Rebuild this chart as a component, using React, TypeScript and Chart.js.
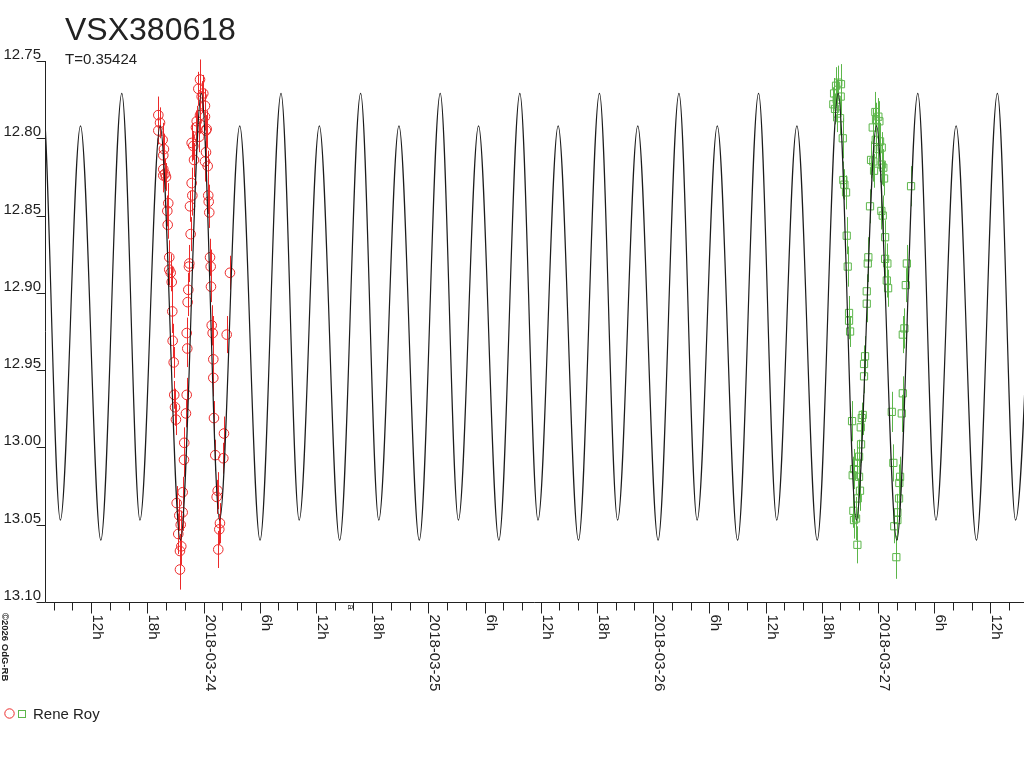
import { useEffect, useRef } from 'react';
import { Chart, registerables } from 'chart.js';
import type { Plugin } from 'chart.js';

Chart.register(...registerables);

// time is in hours since 2018-03-23 00:00
const X_MIN = 7.07;
const X_MAX = 111.6;
const Y_MIN = 12.75;
const Y_MAX = 13.1;

const RED = '#ec2a2a';
const GREEN = '#5cb64a';
const INK = '#222222';
const FONT = "'Liberation Sans', Arial, sans-serif";

const yTicks = [12.75, 12.8, 12.85, 12.9, 12.95, 13.0, 13.05, 13.1];
const yTickLabels = ['12.75', '12.80', '12.85', '12.90', '12.95', '13.00', '13.05', '13.10'];

const xLabelHours = [12, 18, 24, 30, 36, 42, 48, 54, 60, 66, 72, 78, 84, 90, 96, 102, 108];
const xLabels = [
	'12h', '18h', '2018-03-24', '6h', '12h', '18h', '2018-03-25', '6h', '12h', '18h',
	'2018-03-26', '6h', '12h', '18h', '2018-03-27', '6h', '12h',
];

const curveTimes = [
	4.53, 6.77, 8.71, 10.86, 13.03, 15.27, 17.21, 19.36, 21.53, 23.77, 25.71, 27.86, 30.03,
	32.27, 34.21, 36.36, 38.53, 40.77, 42.71, 44.86, 47.03, 49.27, 51.21, 53.36, 55.53,
	57.77, 59.71, 61.86, 64.03, 66.27, 68.21, 70.36, 72.53, 74.76, 76.7, 78.85, 81.02,
	83.26, 85.2, 87.35, 89.52, 91.76, 93.7, 95.85, 98.02, 100.26, 102.2, 104.35, 106.52,
	108.76, 110.7, 112.85,
];
const curveMags = [
	13.06, 12.771, 13.047, 12.792, 13.06, 12.771, 13.047, 12.792, 13.06, 12.771, 13.047, 12.792, 13.06,
	12.771, 13.047, 12.792, 13.06, 12.771, 13.047, 12.792, 13.06, 12.771, 13.047, 12.792, 13.06,
	12.771, 13.047, 12.792, 13.06, 12.771, 13.047, 12.792, 13.06, 12.771, 13.047, 12.792, 13.06,
	12.771, 13.047, 12.792, 13.06, 12.771, 13.047, 12.792, 13.06, 12.771, 13.047, 12.792, 13.06,
	12.771, 13.047, 12.792,
];

// Rene Roy, first night (circles)
const redTimes = [
	19.17, 19.35, 19.17, 19.63, 19.77, 19.7, 19.7, 19.88, 19.99, 19.7,
	20.23, 20.13, 20.17, 20.34, 20.34, 20.49, 20.6, 20.66, 20.7, 20.81,
	20.87, 20.95, 21.05, 21.13, 21.3, 21.41, 21.56, 21.62, 21.48, 21.48,
	21.77, 21.77, 21.91, 21.94, 22.12, 22.2, 22.26, 22.2, 22.3, 22.37,
	22.44, 22.48, 22.62, 22.55, 22.8, 22.73, 22.98, 22.9, 22.73, 23.54,
	23.19, 23.27, 23.62, 23.44, 23.62, 23.97, 23.8, 24.15, 24.15, 24.33,
	24.26, 24.26, 24.15, 24.44, 24.5, 24.55, 24.61, 24.69, 24.76, 24.79,
	24.87, 24.97, 25.04, 25.04, 25.11, 25.25, 25.51, 25.4, 25.75, 25.68,
	25.57, 26.18, 26.11, 26.47, 26.82,
];
const redMags = [
	12.785, 12.79, 12.795, 12.801, 12.807, 12.811, 12.82, 12.823, 12.825, 12.824,
	12.842, 12.847, 12.856, 12.877, 12.885, 12.887, 12.893, 12.912, 12.931, 12.945,
	12.966, 12.974, 12.982, 13.036, 13.056, 13.044, 13.05, 13.064, 13.067, 13.079,
	13.029, 13.042, 13.008, 12.997, 12.978, 12.966, 12.936, 12.926, 12.906, 12.898,
	12.883, 12.881, 12.862, 12.844, 12.837, 12.829, 12.814, 12.805, 12.803, 12.799,
	12.793, 12.789, 12.785, 12.768, 12.762, 12.771, 12.773, 12.779, 12.786, 12.794,
	12.795, 12.809, 12.815, 12.818, 12.837, 12.841, 12.848, 12.877, 12.883, 12.896,
	12.921, 12.926, 12.943, 12.955, 12.981, 13.005, 13.028, 13.032, 13.049, 13.053,
	13.066, 12.991, 13.007, 12.927, 12.887,
];
const redErrors = [
	0.012, 0.01, 0.009, 0.011, 0.01, 0.008, 0.012, 0.01, 0.009, 0.011,
	0.013, 0.01, 0.009, 0.011, 0.01, 0.012, 0.01, 0.014, 0.011, 0.01,
	0.009, 0.012, 0.01, 0.011, 0.013, 0.01, 0.009, 0.012, 0.011, 0.013,
	0.01, 0.012, 0.011, 0.01, 0.009, 0.011, 0.012, 0.01, 0.009, 0.011,
	0.01, 0.012, 0.011, 0.01, 0.013, 0.01, 0.011, 0.009, 0.012, 0.01,
	0.011, 0.01, 0.012, 0.011, 0.013, 0.012, 0.01, 0.011, 0.009, 0.012,
	0.01, 0.011, 0.013, 0.01, 0.012, 0.011, 0.01, 0.012, 0.011, 0.01,
	0.013, 0.011, 0.01, 0.012, 0.011, 0.01, 0.012, 0.011, 0.013, 0.01,
	0.012, 0.011, 0.01, 0.012, 0.011,
];

// Rene Roy, last night (squares)
const greenTimes = [
	91.77, 92.06, 91.53, 91.32, 92.03, 91.24, 91.6, 91.42, 91.67, 91.96,
	92.25, 92.31, 92.42, 92.6, 92.67, 92.78, 92.92, 92.92, 93.03, 93.24,
	93.31, 93.38, 93.45, 93.45, 93.67, 93.74, 93.81, 93.85, 93.99, 93.99,
	94.09, 94.17, 94.2, 94.28, 94.38, 94.52, 94.52, 94.63, 94.81, 94.81,
	94.92, 94.98, 95.16, 95.27, 95.51, 95.45, 95.59, 95.73, 95.77, 95.8,
	96.05, 96.16, 96.05, 96.23, 96.41, 96.41, 96.58, 96.66, 96.37, 96.52,
	96.77, 96.77, 97.01, 96.95, 97.09, 97.48, 97.65, 97.75, 97.97, 98.08,
	98.08, 98.26, 98.29, 98.37, 98.55, 98.66, 98.66, 98.83, 98.98, 99.09,
	99.54,
];
const greenMags = [
	12.764, 12.765, 12.766, 12.771, 12.773, 12.778, 12.775, 12.781, 12.784, 12.787,
	12.8, 12.827, 12.83, 12.835, 12.863, 12.883, 12.913, 12.918, 12.925, 12.983,
	13.018, 13.041, 13.014, 13.047, 13.046, 13.01, 13.063, 13.033, 13.006, 13.019,
	13.028, 12.987, 12.998, 12.981, 12.979, 12.946, 12.954, 12.941, 12.907, 12.899,
	12.881, 12.877, 12.844, 12.814, 12.815, 12.793, 12.821, 12.783, 12.801, 12.788,
	12.786, 12.789, 12.807, 12.802, 12.806, 12.817, 12.819, 12.826, 12.847, 12.85,
	12.864, 12.878, 12.881, 12.892, 12.897, 12.977, 13.01, 13.051, 13.071, 13.042,
	13.047, 13.033, 13.023, 13.019, 12.978, 12.965, 12.927, 12.923, 12.895, 12.881,
	12.831,
];
const greenErrors = [
	0.011, 0.013, 0.012, 0.01, 0.012, 0.011, 0.013, 0.01, 0.012, 0.011,
	0.013, 0.012, 0.01, 0.011, 0.012, 0.013, 0.011, 0.012, 0.01, 0.013,
	0.012, 0.011, 0.013, 0.012, 0.014, 0.011, 0.012, 0.013, 0.011, 0.012,
	0.013, 0.011, 0.012, 0.01, 0.013, 0.012, 0.011, 0.013, 0.012, 0.011,
	0.012, 0.013, 0.011, 0.012, 0.013, 0.012, 0.011, 0.013, 0.012, 0.011,
	0.012, 0.013, 0.011, 0.012, 0.01, 0.013, 0.012, 0.011, 0.012, 0.013,
	0.011, 0.012, 0.013, 0.011, 0.012, 0.013, 0.012, 0.011, 0.014, 0.012,
	0.013, 0.011, 0.012, 0.013, 0.012, 0.011, 0.012, 0.013, 0.011, 0.012,
	0.013,
];

const toPoints = (xs: number[], ys: number[]) => xs.map((x, i) => ({ x, y: ys[i] }));

const lightCurvePlugin: Plugin<'scatter'> = {
	id: 'lightCurveFrame',
	beforeDatasetsDraw(chart) {
		const { ctx, chartArea } = chart;
		const xs = chart.scales.x;
		const ys = chart.scales.y;
		ctx.save();
		ctx.beginPath();
		ctx.rect(chartArea.left, 0, chartArea.right - chartArea.left, chartArea.bottom);
		ctx.clip();
		ctx.lineWidth = 1;
		const bars = (times: number[], mags: number[], errs: number[], color: string) => {
			ctx.strokeStyle = color;
			ctx.beginPath();
			times.forEach((t, i) => {
				const px = Math.round(xs.getPixelForValue(t)) + 0.5;
				ctx.moveTo(px, ys.getPixelForValue(mags[i] - errs[i]));
				ctx.lineTo(px, ys.getPixelForValue(mags[i] + errs[i]));
			});
			ctx.stroke();
		};
		bars(redTimes, redMags, redErrors, RED);
		bars(greenTimes, greenMags, greenErrors, GREEN);
		ctx.restore();
	},
	afterDraw(chart) {
		const { ctx, chartArea } = chart;
		const xs = chart.scales.x;
		const ys = chart.scales.y;
		const left = Math.round(chartArea.left) + 0.5;
		const bottom = Math.round(chartArea.bottom) + 0.5;
		ctx.save();
		ctx.strokeStyle = INK;
		ctx.fillStyle = INK;
		ctx.lineWidth = 1;

		// axis lines
		ctx.beginPath();
		ctx.moveTo(left, ys.getPixelForValue(Y_MIN));
		ctx.lineTo(left, bottom);
		ctx.lineTo(chartArea.right, bottom);
		ctx.stroke();

		// y ticks, labels sit on top of the tick
		ctx.font = `15px ${FONT}`;
		ctx.textAlign = 'right';
		ctx.textBaseline = 'alphabetic';
		yTicks.forEach((v, i) => {
			const py = Math.round(ys.getPixelForValue(v)) + 0.5;
			ctx.beginPath();
			ctx.moveTo(left - 9, py);
			ctx.lineTo(left, py);
			ctx.stroke();
			ctx.fillText(yTickLabels[i], 41, py - 2.5);
		});

		// x ticks every 2 hours, longer ones where labelled
		for (let h = 8; h <= X_MAX; h += 2) {
			const px = Math.round(xs.getPixelForValue(h)) + 0.5;
			const major = xLabelHours.includes(h);
			ctx.beginPath();
			ctx.moveTo(px, bottom);
			ctx.lineTo(px, bottom + (major ? 11 : 8));
			ctx.stroke();
		}
		ctx.textAlign = 'left';
		xLabelHours.forEach((h, i) => {
			const px = Math.round(xs.getPixelForValue(h));
			ctx.save();
			ctx.translate(px + 1.5, bottom + 12);
			ctx.rotate(Math.PI / 2);
			ctx.fillText(xLabels[i], 0, 0);
			ctx.restore();
		});

		// small stray mark under the axis
		ctx.save();
		ctx.font = `9px ${FONT}`;
		ctx.translate(xs.getPixelForValue(39.4), bottom + 2);
		ctx.rotate(Math.PI / 2);
		ctx.fillText('a', 0, 0);
		ctx.restore();

		// title and period
		ctx.font = `32px ${FONT}`;
		ctx.fillText('VSX380618', 65, 39.5);
		ctx.font = `15px ${FONT}`;
		ctx.fillText('T=0.35424', 65, 64);

		// copyright, written downwards
		ctx.save();
		ctx.font = `bold 9.5px ${FONT}`;
		ctx.translate(1.5, 613);
		ctx.rotate(Math.PI / 2);
		ctx.fillText('\u00a92026 OdG-RB', 0, 0);
		ctx.restore();

		// legend
		ctx.strokeStyle = RED;
		ctx.beginPath();
		ctx.arc(9.5, 713.5, 4.7, 0, Math.PI * 2);
		ctx.stroke();
		ctx.strokeStyle = GREEN;
		ctx.strokeRect(18.5, 710.5, 7, 7);
		ctx.fillStyle = INK;
		ctx.font = `15px ${FONT}`;
		ctx.fillText('Rene Roy', 33, 718.5);
		ctx.restore();
	},
};

export default function App() {
	const canvasRef = useRef<HTMLCanvasElement | null>(null);

	useEffect(() => {
		if (!canvasRef.current) return;
		const existing = Chart.getChart(canvasRef.current);
		if (existing) existing.destroy();

		const chart = new Chart(canvasRef.current, {
			type: 'scatter',
			data: {
				datasets: [
					{
						label: 'model',
						data: toPoints(curveTimes, curveMags),
						showLine: true,
						borderColor: '#1c1c1c',
						borderWidth: 1.2,
						pointRadius: 0,
						cubicInterpolationMode: 'monotone',
						order: 0,
					},
					{
						label: 'Rene Roy',
						data: toPoints(redTimes, redMags),
						pointStyle: 'circle',
						pointRadius: 4.8,
						borderColor: RED,
						pointBorderColor: RED,
						backgroundColor: 'rgba(0,0,0,0)',
						pointBackgroundColor: 'rgba(0,0,0,0)',
						pointBorderWidth: 1,
						order: 1,
					},
					{
						label: 'Rene Roy ',
						data: toPoints(greenTimes, greenMags),
						pointStyle: 'rect',
						pointRadius: 5.1,
						borderColor: GREEN,
						pointBorderColor: GREEN,
						backgroundColor: 'rgba(0,0,0,0)',
						pointBackgroundColor: 'rgba(0,0,0,0)',
						pointBorderWidth: 1,
						order: 2,
					},
				],
			},
			options: {
				animation: false,
				responsive: false,
				devicePixelRatio: 1,
				layout: { autoPadding: false, padding: { left: 45, top: 61, right: 0, bottom: 166 } },
				elements: { line: { capBezierPoints: false } },
				plugins: {
					legend: { display: false },
					tooltip: { enabled: false },
					title: { display: false },
				},
				scales: {
					x: { type: 'linear', display: false, min: X_MIN, max: X_MAX },
					y: { type: 'linear', display: false, min: Y_MIN, max: Y_MAX, reverse: true },
				},
			},
			plugins: [lightCurvePlugin],
		});

		return () => {
			chart.destroy();
		};
	}, []);

	return (
		<div style={{ position: 'absolute', left: 0, top: 0, width: '1024px', height: '768px', background: '#fff' }}>
			<canvas ref={canvasRef} width={1024} height={768} style={{ display: 'block' }}></canvas>
		</div>
	);
}
